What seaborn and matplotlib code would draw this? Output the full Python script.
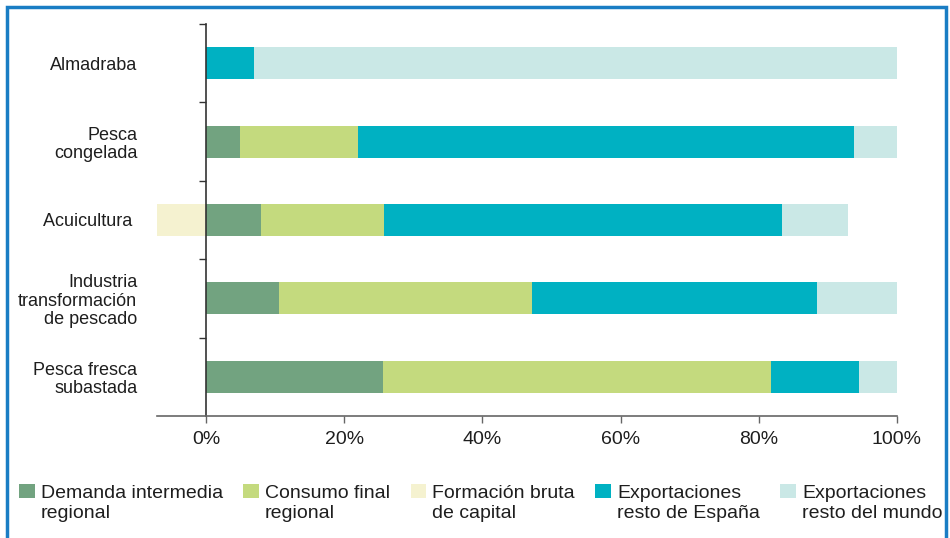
import matplotlib
matplotlib.use("Agg")
import matplotlib.pyplot as plt
from matplotlib.patches import Patch, Rectangle
from matplotlib.legend_handler import HandlerPatch
import numpy as np
import pandas as pd
import seaborn as sns

categories = ["Almadraba", "Pesca\ncongelada", "Acuicultura ",
              "Industria\ntransformación\nde pescado", "Pesca fresca\nsubastada"]

demanda_intermedia = [0.0, 4.9, 8.0, 10.6, 25.6]
consumo_final = [0.0, 17.1, 17.7, 36.6, 56.2]
formacion_bruta = [0.0, 0.0, -7.2, 0.0, 0.0]
export_espana = [6.9, 71.8, 57.6, 41.2, 12.7]
export_mundo = [93.1, 6.2, 9.6, 11.6, 5.5]

series_labels = ["Demanda intermedia\nregional", "Consumo final\nregional",
                 "Formación bruta\nde capital", "Exportaciones\nresto de España",
                 "Exportaciones\nresto del mundo"]
colors = ["#72a380", "#c4da7e", "#f5f2d0", "#00b1c2", "#cae8e6"]

df = pd.DataFrame({
    "categoria": categories,
    "di": demanda_intermedia,
    "cf": consumo_final,
    "fbc": formacion_bruta,
    "ere": export_espana,
    "erm": export_mundo,
})

# cumulative layers, drawn from the outermost one inwards
df["c1"] = df["di"]
df["c2"] = df["c1"] + df["cf"]
df["c3"] = df["c2"] + df["ere"]
df["c4"] = df["c3"] + df["erm"]

sns.set_theme(style="white")
plt.rcParams["font.family"] = ["Liberation Sans", "DejaVu Sans"]
text_color = "#1e1e1e"

fig = plt.figure(figsize=(9.5, 5.38), dpi=100)
ax = fig.add_axes([0.1653, 0.2268, 0.7789, 0.7286])

bar_w = 0.41
for col, c in [("c4", colors[4]), ("c3", colors[3]), ("c2", colors[1]),
               ("c1", colors[0]), ("fbc", colors[2])]:
    sns.barplot(data=df, x=col, y="categoria", orient="h", color=c,
                saturation=1, width=bar_w, linewidth=0, ax=ax)

ax.set_xlim(-7.1, 100)
ax.set_ylim(4.5, -0.5)
ax.set_xlabel("")
ax.set_ylabel("")

for s in ["top", "right"]:
    ax.spines[s].set_visible(False)
ax.spines["left"].set_position(("data", 0))
ax.spines["left"].set_color("#333333")
ax.spines["left"].set_linewidth(1.2)
ax.spines["bottom"].set_color("#666666")
ax.spines["bottom"].set_linewidth(1.2)

ax.set_xticks(np.arange(0, 101, 20))
ax.set_xticklabels([f"{v}%" for v in range(0, 101, 20)])
ax.tick_params(axis="x", direction="out", length=5, width=1, color="#666666",
               labelsize=14, labelcolor=text_color, pad=6, bottom=True)

ax.set_yticks([-0.5, 0.5, 1.5, 2.5, 3.5])
ax.set_yticklabels([])
ax.set_yticks(range(len(categories)), categories, minor=True)
ax.tick_params(axis="y", which="major", direction="out", length=5, width=1,
               color="#333333", left=True)
ax.tick_params(axis="y", which="minor", length=0, labelsize=13,
               labelcolor=text_color, pad=49.5)
for t in ax.get_yticklabels(minor=True):
    t.set_linespacing(1.12)

legend_fs = 14


class UpperPatch(HandlerPatch):
    # put the square next to the first line of a two-line label
    def create_artists(self, legend, orig_handle, xdescent, ydescent,
                       width, height, fontsize, trans):
        r = Rectangle((-xdescent, -ydescent + fontsize * 0.62), width, height,
                      facecolor=orig_handle.get_facecolor(), linewidth=0,
                      transform=trans)
        return [r]


handles = [Patch(facecolor=c, linewidth=0) for c in colors]
leg = fig.legend(handles, series_labels, loc="lower left",
                 bbox_to_anchor=(0.02, 0.03), ncol=5, frameon=False,
                 fontsize=legend_fs, handlelength=0.8, handleheight=0.75,
                 handletextpad=0.32, columnspacing=1.05, borderaxespad=0,
                 borderpad=0, labelcolor=text_color,
                 handler_map={Patch: UpperPatch()})
for t in leg.get_texts():
    t.set_linespacing(1.25)

fig.patches.append(Rectangle((0.0074, -0.1), 0.9884, 1.087, transform=fig.transFigure,
                             fill=False, edgecolor="#1a7dc4", linewidth=2.5))

fig.savefig("out.png", dpi=100)
